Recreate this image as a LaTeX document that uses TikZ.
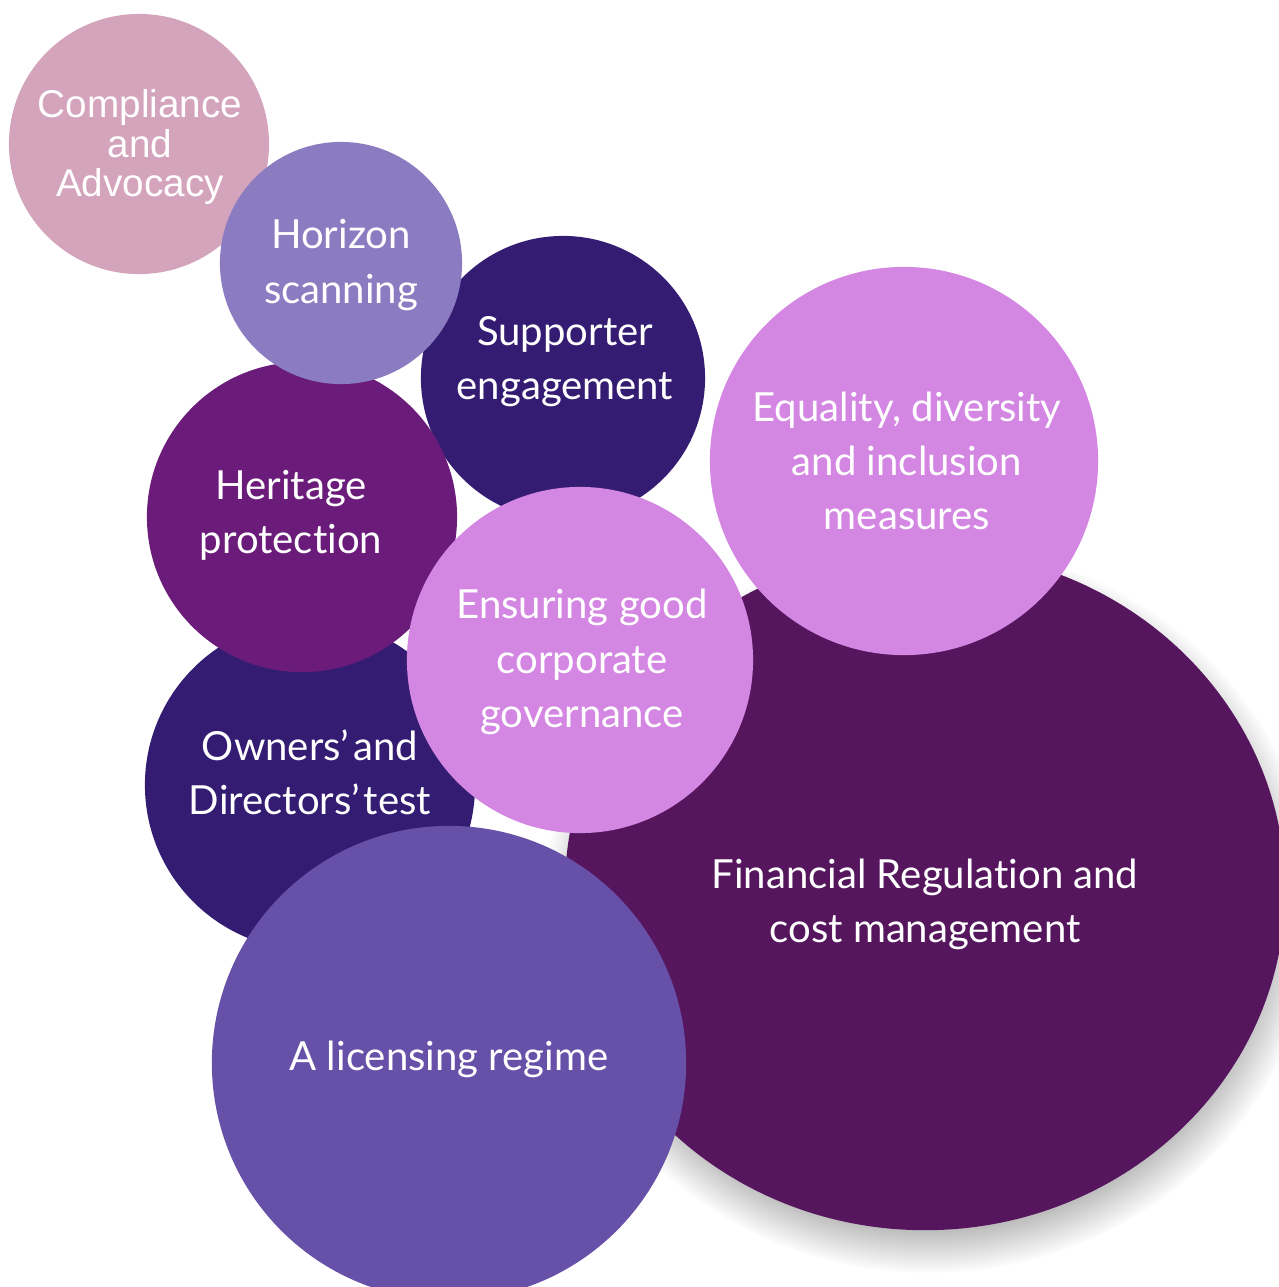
\documentclass[tikz,border=0pt]{standalone}
\usepackage{fontspec}
\setmainfont{Lato}[Ligatures={NoCommon}]
\newfontfamily\arialfont{Liberation Sans}
\usetikzlibrary{shapes.geometric,shadows,fadings}

\definecolor{compcol}{HTML}{D4A4BC}
\definecolor{horcol}{HTML}{8B7CC2}
\definecolor{supcol}{HTML}{341C72}
\definecolor{orchid}{HTML}{D486E3}
\definecolor{hercol}{HTML}{6B1C7A}
\definecolor{fincol}{HTML}{55165E}
\definecolor{liccol}{HTML}{6750A8}

\tikzset{
  bubble/.style={circle, fill=#1, inner sep=0pt},
  bubbletext/.style={text=white, align=center, font=\fontsize{11.4}{15.4}\selectfont},
}

\begin{document}
\begin{tikzpicture}[x=0.01cm, y=-0.01cm]

% page frame
\useasboundingbox (0,0) rectangle (1279,1287);
\clip (0,0) rectangle (1279,1287);

% big bubble with its shadow
\node[ellipse, fill=fincol, inner sep=0pt, minimum width=7.2cm, minimum height=6.8cm,
  circular drop shadow={shadow xshift=1pt, shadow yshift=-5pt, shadow scale=1.07, opacity=0.65}] (fin) at (925,890) {};

% the other bubbles, back to front
\node[bubble=compcol, minimum size=2.6cm] (comp) at (139,144) {};
\node[bubble=supcol, minimum size=2.84cm] (sup) at (563,378) {};
\node[bubble=supcol, minimum size=3.3cm] (own) at (310,785) {};
\node[bubble=hercol, minimum size=3.1cm] (her) at (302,517) {};
\node[bubble=horcol, minimum size=2.42cm] (hor) at (341,263) {};
\node[bubble=orchid, minimum size=3.46cm] (ens) at (580,660) {};
\node[bubble=orchid, minimum size=3.88cm] (eq) at (904,461) {};
\node[bubble=liccol, minimum size=4.74cm] (lic) at (449,1063) {};

% labels
\node[bubbletext, font=\arialfont\fontsize{11}{11.1}\selectfont] (comptext) at (140,147) {Compliance\\and\\Advocacy};
\node[bubbletext] (hortext) at (341,265) {Horizon\\scanning};
\node[bubbletext] (suptext) at (565,362) {Supporter\\engagement};
\node[bubbletext] (eqtext) at (907,461) {Equality, diversity\\and inclusion\\measures};
\node[bubbletext] (hertext) at (291,515) {Heritage\\protection};
\node[bubbletext] (enstext) at (582,662) {Ensuring good\\corporate\\governance};
\node[bubbletext] (owntext) at (310,772) {Owners’\hspace{0.1em}and\\Directors’\hspace{0.1em}test};
\node[bubbletext] (fintext) at (925,904) {Financial Regulation and\\cost management};
\node[bubbletext] (lictext) at (449,1059) {A licensing regime};

\end{tikzpicture}
\end{document}
